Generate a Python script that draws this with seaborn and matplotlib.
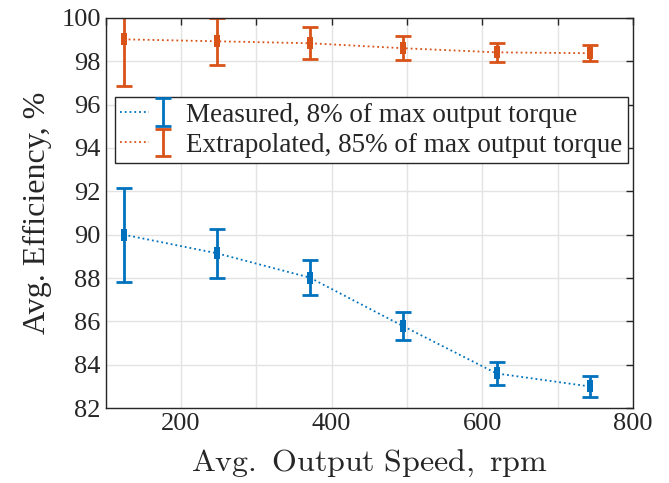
import numpy as np
import pandas as pd
import seaborn as sns
import matplotlib.pyplot as plt
from matplotlib.lines import Line2D
from matplotlib.legend_handler import HandlerTuple

speed = [124, 248, 371, 495, 619, 743]
meas_eff = [90.0, 89.14, 88.02, 85.78, 83.6, 83.0]
meas_err = [2.17, 1.13, 0.79, 0.65, 0.55, 0.49]
extr_eff = [99.01, 98.92, 98.83, 98.6, 98.41, 98.37]
extr_err = [2.15, 1.08, 0.73, 0.55, 0.45, 0.37]
labels = ["Measured, 8% of max output torque",
          "Extrapolated, 85% of max output torque"]
colors = ["#0072BD", "#D95319"]

df = pd.DataFrame({
    "speed": speed * 2,
    "eff": meas_eff + extr_eff,
    "err": meas_err + extr_err,
    "series": [labels[0]] * 6 + [labels[1]] * 6,
})

sns.set_style("whitegrid")
plt.rcParams["font.family"] = ["Liberation Serif", "DejaVu Serif"]
plt.rcParams["mathtext.fontset"] = "cm"

fig = plt.figure(figsize=(6.69, 4.83), dpi=100)
ax = fig.add_axes([0.158, 0.155, 0.788, 0.808])

# tall square-ish marker like the original
rect = [(-0.6, -1), (0.6, -1), (0.6, 1), (-0.6, 1), (-0.6, -1)]
sns.lineplot(data=df, x="speed", y="eff", hue="series", palette=colors,
             linestyle=":", linewidth=1.3, marker=rect, markersize=8,
             markeredgewidth=0, legend=False, ax=ax)

handles = []
for lab, c in zip(labels, colors):
    sub = df[df["series"] == lab]
    eb = ax.errorbar(sub["speed"], sub["eff"], yerr=sub["err"], fmt="none",
                     ecolor=c, elinewidth=2, capsize=5.5, capthick=2)
    ln = Line2D([], [], color=c, linestyle=":", linewidth=1.3)
    handles.append((ln, eb))

ax.set_xlim(100, 800)
ax.set_ylim(82, 100)
ax.set_xticks(np.arange(100, 801, 100))
ax.set_xticklabels(["", "200", "", "400", "", "600", "", "800"])
ax.set_yticks(np.arange(82, 101, 2))
ax.grid(True, color="#e3e3e3", linewidth=1)
ax.tick_params(axis="both", direction="in", length=5, width=1, colors="#262626",
               labelsize=19, top=True, right=True, labeltop=False, labelright=False)
for s in ax.spines.values():
    s.set_color("#262626")
    s.set_linewidth(1)
    s.set_visible(True)

ax.set_xlabel(r"$\mathrm{Avg.\ Output\ Speed,\ rpm}$", fontsize=23,
              color="#262626", labelpad=9)
ax.set_ylabel("Avg. Efficiency, %", fontsize=23, color="#262626", labelpad=7)

leg = ax.legend(handles, labels, handler_map={tuple: HandlerTuple(ndivide=None, pad=0)},
                loc="upper left", bbox_to_anchor=(0.017, 0.797), borderaxespad=0,
                fontsize=19.5, frameon=True, fancybox=False, framealpha=1,
                edgecolor="#262626", handlelength=2.1, handletextpad=0.35,
                borderpad=0.2, labelspacing=0.2)
leg.get_frame().set_linewidth(1)

fig.savefig("out.png", dpi=100)
